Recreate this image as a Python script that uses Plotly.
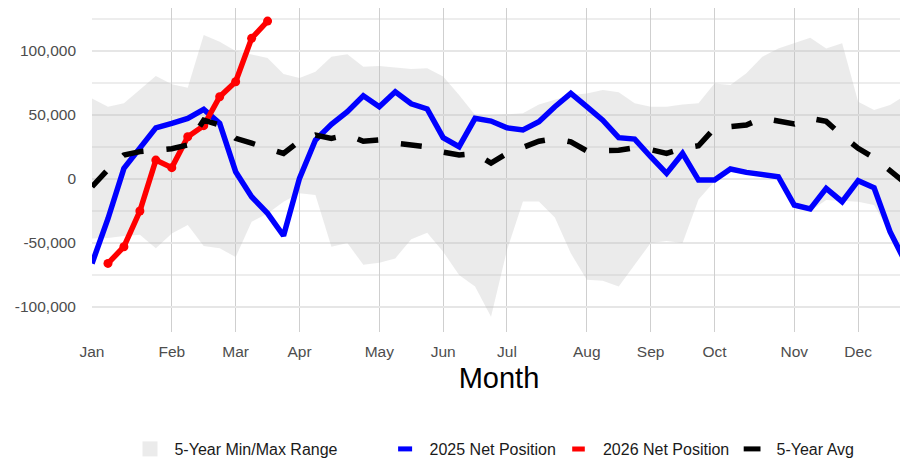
import plotly.graph_objects as go

# weekly x positions and month ticks
weeks = list(range(1, 53))
month_ticks = [1, 6, 10, 14, 19, 23, 27, 32, 36, 40, 45, 49]
month_labels = ["Jan", "Feb", "Mar", "Apr", "May", "Jun",
                "Jul", "Aug", "Sep", "Oct", "Nov", "Dec"]

y_ticks = [-100000, -50000, 0, 50000, 100000]
y_labels = ["-100,000", "-50,000", "0", "50,000", "100,000"]
y_minor = [-75000, -25000, 25000, 75000, 125000]

# 5-year min/max band
range_max = [63000, 56500, 59100, 69500, 80500, 74000, 71300, 112500, 107300, 100000,
             97000, 94500, 82000, 79000, 83800, 95600, 97400, 87800, 88300, 87000,
             85900, 86500, 80000, 65600, 50000, 50000, 50500, 51300, 58300, 61700,
             65600, 66900, 69500, 67700, 59100, 56500, 56500, 58300, 59100, 74700,
             73400, 82600, 95600, 102000, 106500, 110400, 102000, 106000, 60400, 53900,
             57800, 65600]
range_min = [-46400, -46000, -44500, -43500, -54000, -42500, -36000, -52300, -54000, -61000,
             -33300, -27000, -17700, -11200, -12500, -52900, -50000, -67000, -65400, -62000,
             -47000, -42000, -56800, -75000, -84000, -107600, -55500, -17500, -17500, -30000,
             -58000, -78700, -79400, -84000, -67000, -50000, -48500, -50000, -16000, -2000,
             6000, 3500, 2000, 0, -22000, -25000, -16400, -17000, -17700, -20300,
             -42000, -66000]

net_2025 = [-66000, -31000, 8300, 24000, 40000, 43500, 47400, 54400, 43500, 5700,
            -13800, -26800, -44300, 500, 30500, 42700, 52600, 65000, 56500, 68200,
            58800, 54700, 32300, 25300, 47400, 45300, 40000, 38300, 44800, 56500,
            66900, 56500, 46000, 32300, 31200, 17400, 4400, 20000, -800, -800,
            7800, 5200, 3600, 1800, -20300, -23400, -7300, -17700, -1300, -6800,
            -41100, -65900]

weeks_2026 = list(range(2, 13))
net_2026 = [-65900, -52900, -25000, 14800, 8900, 33000, 41700, 64300, 76000, 109900, 123400]

avg_5yr = [-6000, 7500, 18800, 21400, 22500, 23700, 26600, 46000, 42200, 31800,
           28000, 24000, 20000, 29700, 34400, 31800, 34400, 29500, 30500, 28000,
           26600, 25200, 21000, 18800, 20000, 12500, 20000, 25000, 29500, 31600,
           29000, 22000, 22300, 22500, 24500, 23000, 20000, 24000, 26000, 39600,
           41000, 42200, 47500, 45000, 43000, 47400, 45000, 34000, 24000, 16500,
           7000, -3500]

FONT = "Liberation Sans, Arial, sans-serif"
BAND = "rgba(190,190,190,0.3)"

# the page body has an 8px margin, so the figure is laid out 8px in from the window
W, H = 900, 453

fig = go.Figure()

# 1. Banda min/max
fig.add_trace(go.Scatter(x=weeks, y=range_max, mode="lines", line=dict(width=0),
                         showlegend=False, hoverinfo="skip"))
fig.add_trace(go.Scatter(x=weeks, y=range_min, mode="lines", line=dict(width=0),
                         fill="tonexty", fillcolor=BAND, showlegend=False))

# 2. Series
fig.add_trace(go.Scatter(x=weeks, y=net_2025, mode="lines",
                         line=dict(color="#0000ff", width=5.5), showlegend=False))
fig.add_trace(go.Scatter(x=weeks_2026, y=net_2026, mode="lines+markers",
                         line=dict(color="#ff0000", width=5.5),
                         marker=dict(color="#ff0000", size=9), showlegend=False))
fig.add_trace(go.Scatter(x=weeks, y=avg_5yr, mode="lines",
                         line=dict(color="black", width=5.5, dash="21px,23px"),
                         showlegend=False))

# 3. Legend entries (one legend each, placed in container pixels)
legend_items = [
    # name, symbol, size, line width, colour, legend id, text start px (window)
    ("5-Year Min/Max Range", "square", 15, 0, "#ebebeb", "legend", 175.5),
    ("2025 Net Position", "line-ew", 10, 6, "#0000ff", "legend2", 430.6),
    ("2026 Net Position", "line-ew", 9, 9, "#ff0000", "legend3", 604),
    ("5-Year Avg", "line-ew", 12, 6, "black", "legend4", 777.6),
]
legend_layout = {}
for name, sym, size, lw, col, leg, text_x in legend_items:
    fig.add_trace(go.Scatter(
        x=[None], y=[None], mode="markers", name="\u00a0" + name, legend=leg,
        marker=dict(symbol=sym, size=size, color=col, line=dict(color=col, width=lw)),
    ))
    legend_layout[leg] = dict(
        xref="container", yref="container",
        x=(text_x - 53.5) / W, xanchor="left",
        y=1 - 441 / H, yanchor="middle",
        bgcolor="rgba(0,0,0,0)", borderwidth=0,
        font=dict(family=FONT, size=16, color="#1a1a1a"),
    )

fig.update_layout(
    width=W, height=H,
    margin=dict(l=84, r=2, t=0, b=129, autoexpand=False),
    plot_bgcolor="white", paper_bgcolor="white",
    font=dict(family=FONT),
    xaxis=dict(
        range=[1, 52], tickvals=month_ticks, ticktext=month_labels,
        showgrid=True, gridcolor="#cfcfcf", gridwidth=1.3,
        zeroline=False, showline=False, ticks="", automargin=False,
        tickfont=dict(size=15.5, color="#4d4d4d"), ticklabelstandoff=8,
        title=dict(text="Month", font=dict(size=29, color="black"), standoff=9),
    ),
    yaxis=dict(
        range=[-119500, 133600], tickvals=y_ticks, ticktext=y_labels,
        showgrid=True, gridcolor="#e6e6e6", gridwidth=2,
        minor=dict(tickvals=y_minor, showgrid=True, gridcolor="#ededed", gridwidth=1.5),
        zeroline=False, showline=False, ticks="", automargin=False,
        tickfont=dict(size=15.5, color="#4d4d4d"), ticklabelstandoff=15,
    ),
    **legend_layout,
)

fig.write_html("out.html")
